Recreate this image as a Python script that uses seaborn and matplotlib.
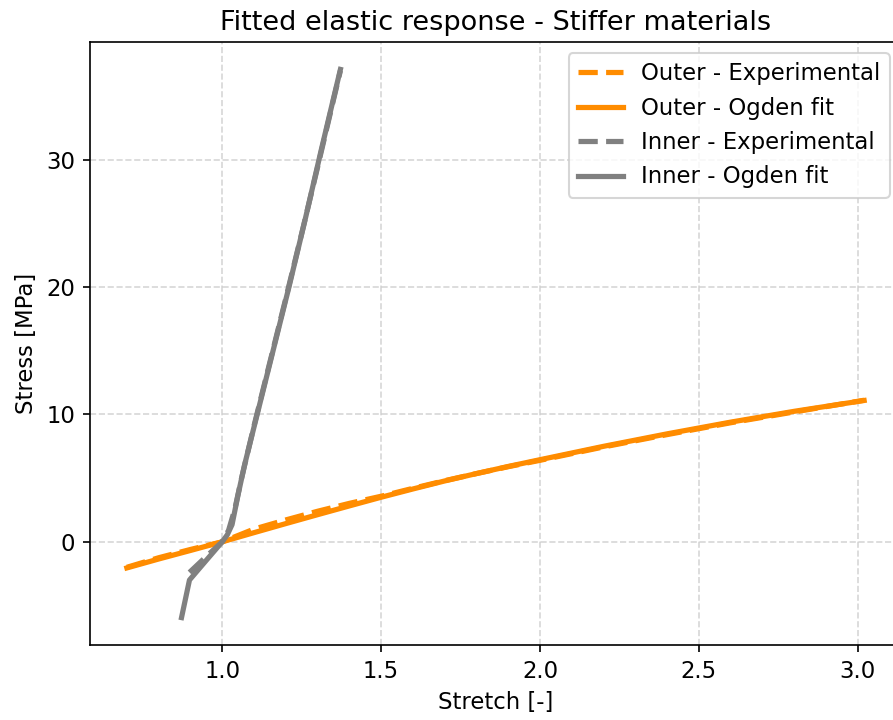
import matplotlib
matplotlib.use("Agg")
import matplotlib.pyplot as plt
import seaborn as sns

# Outer layer: experimental curve and Ogden fit
outer_exp_stretch = [0.70, 0.80, 0.90, 1.00, 1.05, 1.10, 1.20, 1.30, 1.40, 1.50,
                     1.60, 1.70, 1.80, 1.90, 2.00, 2.20, 2.40, 2.60, 2.80, 3.02]
outer_exp_stress = [-2.00, -1.25, -0.60, 0.00, 0.50, 1.00, 1.72, 2.40, 3.02, 3.58,
                    4.20, 4.80, 5.36, 5.90, 6.40, 7.45, 8.42, 9.35, 10.20, 11.12]

outer_fit_stretch = [0.70, 0.80, 0.90, 1.00, 1.10, 1.20, 1.30, 1.40, 1.50, 1.60,
                     1.70, 1.80, 1.90, 2.00, 2.20, 2.40, 2.60, 2.80, 3.02]
outer_fit_stress = [-2.05, -1.35, -0.68, 0.00, 0.72, 1.43, 2.13, 2.82, 3.50, 4.15,
                    4.78, 5.36, 5.92, 6.45, 7.50, 8.48, 9.40, 10.25, 11.10]

# Inner layer: experimental curve and Ogden fit
inner_exp_stretch = [0.897, 0.95, 1.00, 1.02, 1.04, 1.06, 1.10, 1.15, 1.20, 1.25,
                     1.30, 1.35, 1.372]
inner_exp_stress = [-2.40, -1.15, 0.00, 0.90, 2.60, 4.90, 9.10, 14.10, 19.10, 24.20,
                    29.40, 34.70, 37.00]

inner_fit_stretch = [0.872, 0.897, 0.95, 1.00, 1.016, 1.031, 1.05, 1.07, 1.11, 1.16,
                     1.21, 1.26, 1.31, 1.372]
inner_fit_stress = [-5.95, -3.00, -1.45, 0.00, 0.55, 1.35, 3.70, 6.00, 10.00, 15.00,
                    20.00, 25.20, 30.60, 37.10]

ORANGE = "darkorange"
GREY = "grey"
LW = 2.5
BASE = 10.9

plt.rcParams.update({
    "font.size": BASE,
    "xtick.labelsize": BASE,
    "ytick.labelsize": BASE,
    "axes.labelsize": BASE,
    "legend.fontsize": BASE,
})

fig = plt.figure(figsize=(893 / 150, 720 / 150), dpi=150)
ax = fig.add_subplot(111)

sns.lineplot(x=outer_exp_stretch, y=outer_exp_stress, ax=ax, color=ORANGE,
             linestyle="--", linewidth=LW, label="Outer - Experimental",
             sort=False, estimator=None)
sns.lineplot(x=outer_fit_stretch, y=outer_fit_stress, ax=ax, color=ORANGE,
             linestyle="-", linewidth=LW, label="Outer - Ogden fit",
             sort=False, estimator=None)
sns.lineplot(x=inner_exp_stretch, y=inner_exp_stress, ax=ax, color=GREY,
             linestyle="--", linewidth=LW, label="Inner - Experimental",
             sort=False, estimator=None)
sns.lineplot(x=inner_fit_stretch, y=inner_fit_stress, ax=ax, color=GREY,
             linestyle="-", linewidth=LW, label="Inner - Ogden fit",
             sort=False, estimator=None)

ax.set_title("Fitted elastic response - Stiffer materials", fontsize=13)
ax.set_xlabel("Stretch [-]")
ax.set_ylabel("Stress [MPa]")
ax.grid(True, linestyle="--", alpha=0.5)
ax.legend(loc="upper right")

W, H = 893, 720
left, right, top, bottom = 90, 901, 42, 645
ax.set_position([left / W, (H - bottom) / H, (right - left) / W, (bottom - top) / H])

fig.savefig("out.png", dpi=150)
